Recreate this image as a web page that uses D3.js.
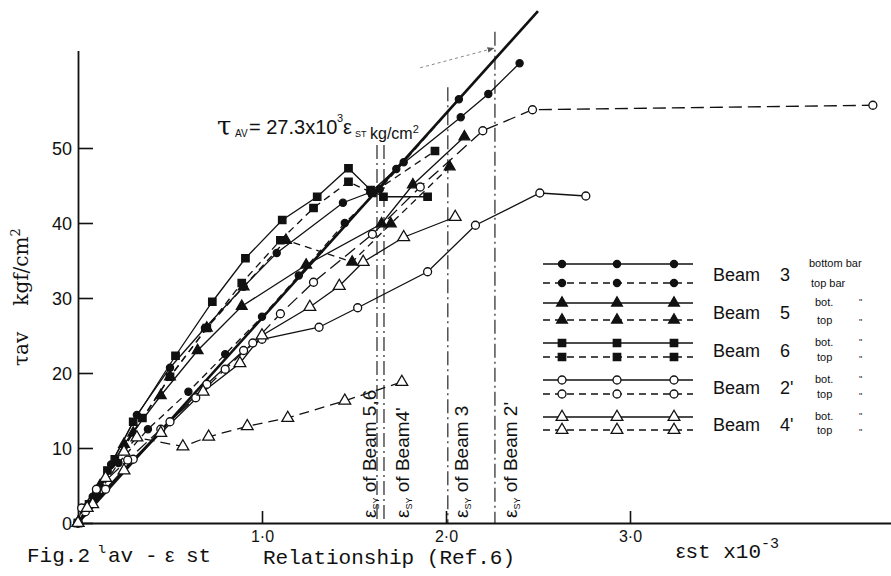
<!DOCTYPE html>
<html><head><meta charset="utf-8">
<script src="https://cdn.jsdelivr.net/npm/d3@7"></script>
<style>body{margin:0;background:#fff}svg{display:block}</style>
</head><body>
<svg id="c" width="891" height="576"></svg>
<script>
// ---- data (strain in x10^-3, stress in kgf/cm2) ----
const xTicks = [1, 2, 3];
const xTickLabels = ["1·0", "2·0", "3·0"];
const yTicks = [0, 10, 20, 30, 40, 50];

const beam3Bot = [[0,0],[0.08,3.5],[0.18,7.8],[0.32,14.4],[0.5,20.7],[0.69,26],[0.9,31.5],[1.08,36.0],[1.44,42.7],[1.59,44.1],[1.73,47.2],[2.08,54.1],[2.23,57.2],[2.40,61.3]];
const beam3Top = [[0,0],[0.1,3.5],[0.22,8],[0.38,12.5],[0.6,17.5],[0.8,22.5],[1.0,27.5],[1.2,33],[1.45,40],[1.64,44.5],[1.77,48.1],[2.07,56.5]];
const beam5Bot = [[0,0],[0.1,4],[0.25,10.5],[0.45,17],[0.65,23],[0.89,28.9],[1.24,34.4],[1.65,39.9],[1.82,45.1],[2.10,51.5]];
const beam5Top = [[0,0],[0.12,5],[0.3,12],[0.5,19.5],[0.7,26],[0.9,31.5],[1.13,37.7],[1.49,34.8],[1.70,39.9],[2.02,47.5]];
const beam6Bot = [[0,0],[0.06,2.5],[0.16,7],[0.3,13.5],[0.53,22.3],[0.73,29.5],[0.91,35.3],[1.11,40.4],[1.30,43.5],[1.47,47.3],[1.59,44.4],[1.66,43.5],[1.90,43.5]];
const beam6Top = [[0,0],[0.1,4],[0.2,8.5],[0.35,14],[0.5,19.5],[0.7,26],[0.89,32],[1.10,37.7],[1.28,42],[1.47,45.5],[1.6,44],[1.94,49.6]];
const beam2Bot = [[0,0],[0.04,1.5],[0.15,4.5],[0.3,8.5],[0.5,13.5],[0.7,18.5],[0.9,23],[1.0,24.5],[1.31,26.1],[1.52,28.7],[1.90,33.5],[2.16,39.7],[2.51,44.0],[2.76,43.6]];
const beam2Top = [[0,0],[0.02,2],[0.1,4.5],[0.27,8.4],[0.45,12.5],[0.64,16.7],[0.8,20.5],[0.95,24],[1.10,27.9],[1.28,32.1],[1.6,38.5],[1.86,44.8],[2.20,52.3],[2.47,55.1],[4.32,55.7]];
const beam4Bot = [[0,0],[0.08,2.5],[0.25,7],[0.45,12],[0.68,17.5],[0.88,21.3],[1.0,25],[1.26,28.8],[1.42,31.6],[1.55,34.8],[1.77,38.1],[2.05,40.8]];
const beam4Top = [[0,0],[0.05,2],[0.15,6],[0.25,9.5],[0.32,11.4],[0.57,10.2],[0.71,11.5],[0.92,12.9],[1.14,14.0],[1.45,16.3],[1.76,18.8]];

// tau_av = 27.3x10^3 eps_st
const theoryLine = [[0,0],[2.5,68.25]];
const yieldStrains = [1.625, 1.663, 2.01, 2.266];
const yieldTops = [50.4, 50.4, 58.1, 65.5];
const yieldLabels = ["of Beam 5,6", "of Beam4'", "of Beam 3", "of Beam 2'"];

const legendBeams = ["3", "5", "6", "2'", "4'"];
const legendSubTop = ["bottom bar", "bot.", "bot.", "bot.", "bot."];
const legendSubBot = ["top bar", "top", "top", "top", "top"];

// ---- setup ----
const svg = d3.select("#c");
const ink = "#111";
const sans = "Liberation Sans, Arial, sans-serif";
const x = d3.scaleLinear().domain([0, 4.4185]).range([78, 891]);
const y = d3.scaleLinear().domain([0, 63]).range([523, 50.5]);

const series = [
  {data: beam3Bot, sym: d3.symbolCircle, size: 40, filled: true, dash: null},
  {data: beam3Top, sym: d3.symbolCircle, size: 40, filled: true, dash: "7,5"},
  {data: beam5Bot, sym: d3.symbolTriangle, size: 50, filled: true, dash: null},
  {data: beam5Top, sym: d3.symbolTriangle, size: 50, filled: true, dash: "7,5"},
  {data: beam6Bot, sym: d3.symbolSquare, size: 55, filled: true, dash: null},
  {data: beam6Top, sym: d3.symbolSquare, size: 55, filled: true, dash: "7,5"},
  {data: beam2Bot, sym: d3.symbolCircle, size: 50, filled: false, dash: null},
  {data: beam2Top, sym: d3.symbolCircle, size: 50, filled: false, dash: "13,6"},
  {data: beam4Bot, sym: d3.symbolTriangle, size: 60, filled: false, dash: null},
  {data: beam4Top, sym: d3.symbolTriangle, size: 60, filled: false, dash: "10,6"}
];

// ---- axes ----
const gx = svg.append("g").attr("transform", `translate(0,${y(0)})`)
  .call(d3.axisBottom(x).tickValues(xTicks).tickFormat((d, i) => xTickLabels[i])
    .tickSizeInner(-12).tickSizeOuter(0).tickPadding(8));
const gy = svg.append("g").attr("transform", `translate(${x(0)},0)`)
  .call(d3.axisLeft(y).tickValues(yTicks).tickSizeInner(-15).tickSizeOuter(0).tickPadding(6));
[gx, gy].forEach(g => {
  g.select(".domain").attr("stroke", ink).attr("stroke-width", 1.8);
  g.selectAll(".tick line").attr("stroke", ink).attr("stroke-width", 1.6);
  g.selectAll(".tick text").attr("fill", ink).attr("font-family", sans);
});
gx.selectAll(".tick text").attr("font-size", 16);
gy.selectAll(".tick text").attr("font-size", 18).attr("dy", "0.36em");

// ---- yield strain lines ----
const yl = svg.append("g");
yieldStrains.forEach((s, i) => {
  yl.append("line").attr("x1", x(s)).attr("x2", x(s)).attr("y1", y(yieldTops[i])).attr("y2", y(0))
    .attr("stroke", ink).attr("stroke-width", 1.1).attr("stroke-dasharray", "14,4,2,4");
});
const labelX = [376, 409, 468, 517];
yieldLabels.forEach((t, i) => {
  const tx = yl.append("text").attr("transform", `translate(${labelX[i]},518) rotate(-90)`)
    .attr("font-family", sans).attr("font-size", 19).attr("fill", ink);
  tx.append("tspan").text("ε");
  tx.append("tspan").attr("font-size", 9).attr("dy", 3).text("SY");
  tx.append("tspan").attr("dy", -3).text(" " + t);
});

// ---- theory line ----
const line = d3.line().x(d => x(d[0])).y(d => y(d[1]));
svg.append("path").attr("d", line(theoryLine)).attr("fill", "none").attr("stroke", ink).attr("stroke-width", 2.6);

// ---- series ----
series.forEach(s => {
  svg.append("path").attr("d", line(s.data)).attr("fill", "none").attr("stroke", ink)
    .attr("stroke-width", 1.3).attr("stroke-dasharray", s.dash);
});
series.forEach(s => {
  const sg = d3.symbol().type(s.sym).size(s.size);
  svg.append("g").selectAll("path").data(s.data).join("path")
    .attr("transform", d => `translate(${x(d[0])},${y(d[1])})`)
    .attr("d", sg).attr("fill", s.filled ? ink : "#fff").attr("stroke", ink).attr("stroke-width", 1.3);
});

// ---- formula annotation ----
const fa = svg.append("g").attr("fill", ink).attr("font-family", sans);
fa.append("text").attr("x", 217).attr("y", 135).attr("font-family", "DejaVu Serif, serif").attr("font-size", 26).text("τ");
fa.append("text").attr("x", 235).attr("y", 137).attr("font-size", 10).text("AV");
fa.append("text").attr("x", 249).attr("y", 134).attr("font-size", 20).text("= 27.3x10");
fa.append("text").attr("x", 337).attr("y", 122).attr("font-size", 11).text("3");
fa.append("text").attr("x", 343).attr("y", 134).attr("font-size", 20).text("ε");
fa.append("text").attr("x", 355).attr("y", 137).attr("font-size", 9).text("ST");
const kg = fa.append("text").attr("x", 370).attr("y", 139).attr("font-size", 16).text("kg/cm");
kg.append("tspan").attr("font-size", 11).attr("dy", -6).text("2");
// arrow to the line
const arrStart = [1.86, 60.7], arrEnd = [2.26, 63.3];
svg.append("defs").append("marker").attr("id", "ah").attr("viewBox", "0 0 10 10").attr("refX", 9).attr("refY", 5)
  .attr("markerWidth", 7).attr("markerHeight", 7).attr("orient", "auto")
  .append("path").attr("d", "M0,1L10,5L0,9z").attr("fill", "#555");
svg.append("line").attr("x1", x(arrStart[0])).attr("y1", y(arrStart[1])).attr("x2", x(arrEnd[0])).attr("y2", y(arrEnd[1]))
  .attr("stroke", "#888").attr("stroke-width", 1).attr("stroke-dasharray", "3,3").attr("marker-end", "url(#ah)");

// ---- legend ----
const lg = svg.append("g");
const rowY = [264, 283, 303, 320, 343, 357, 380, 394, 417, 430];
const sampleX = [562, 617, 674];
series.forEach((s, i) => {
  lg.append("line").attr("x1", 543).attr("x2", 693).attr("y1", rowY[i]).attr("y2", rowY[i])
    .attr("stroke", ink).attr("stroke-width", 1.3).attr("stroke-dasharray", s.dash ? "7,5" : null);
  const sg = d3.symbol().type(s.sym).size(s.size);
  lg.selectAll(null).data(sampleX).join("path").attr("transform", d => `translate(${d},${rowY[i]})`)
    .attr("d", sg).attr("fill", s.filled ? ink : "#fff").attr("stroke", ink).attr("stroke-width", 1.3);
});
legendBeams.forEach((b, k) => {
  const y1 = rowY[2 * k], y2 = rowY[2 * k + 1];
  const base = (y1 + y2) / 2 + 7;
  lg.append("text").attr("x", 713).attr("y", base).attr("font-family", sans).attr("font-size", 18).attr("fill", ink).text("Beam");
  lg.append("text").attr("x", 780).attr("y", base).attr("font-family", sans).attr("font-size", 18).attr("fill", ink).text(b);
  const xs = k === 0 ? 809 : 815;
  lg.append("text").attr("x", xs).attr("y", y1 + 3).attr("font-family", sans).attr("font-size", 11).attr("fill", ink).text(legendSubTop[k]);
  lg.append("text").attr("x", xs + 2).attr("y", y2 + 4).attr("font-family", sans).attr("font-size", 11).attr("fill", ink).text(legendSubBot[k]);
  if (k > 0) {
    lg.append("text").attr("x", 859).attr("y", y1 + 2).attr("font-family", sans).attr("font-size", 9).attr("fill", ink).text("\"");
    lg.append("text").attr("x", 859).attr("y", y2 + 5).attr("font-family", sans).attr("font-size", 9).attr("fill", ink).text("\"");
  }
});

// ---- axis titles & caption ----
const yt = svg.append("text").attr("transform", "translate(28,366) rotate(-90)")
  .attr("font-family", "DejaVu Serif, serif").attr("font-size", 20).attr("fill", ink);
yt.append("tspan").text("τav");
yt.append("tspan").attr("dx", 26).text("kgf/cm");
yt.append("tspan").attr("font-size", 13).attr("dy", -8).text("2");

const mono = "Liberation Mono, Courier New, monospace";
const cap = svg.append("g").attr("font-family", mono).attr("font-size", 21).attr("fill", ink);
cap.append("text").attr("x", 27).attr("y", 562).text("Fig.2");
cap.append("text").attr("x", 98).attr("y", 553).attr("font-size", 14).text("ι");
cap.append("text").attr("x", 108).attr("y", 562).text("av");
cap.append("text").attr("x", 145).attr("y", 562).text("-");
cap.append("text").attr("x", 165).attr("y", 562).attr("font-family", sans).text("ε");
cap.append("text").attr("x", 186).attr("y", 562).text("st");
cap.append("text").attr("x", 263).attr("y", 564).text("Relationship (Ref.6)");
const xl = svg.append("text").attr("x", 676).attr("y", 558).attr("font-family", mono).attr("font-size", 21).attr("fill", ink);
xl.append("tspan").attr("font-family", sans).text("ε");
xl.append("tspan").text("st x10");
xl.append("tspan").attr("font-size", 15).attr("dy", -10).text("-3");
</script>
</body></html>
